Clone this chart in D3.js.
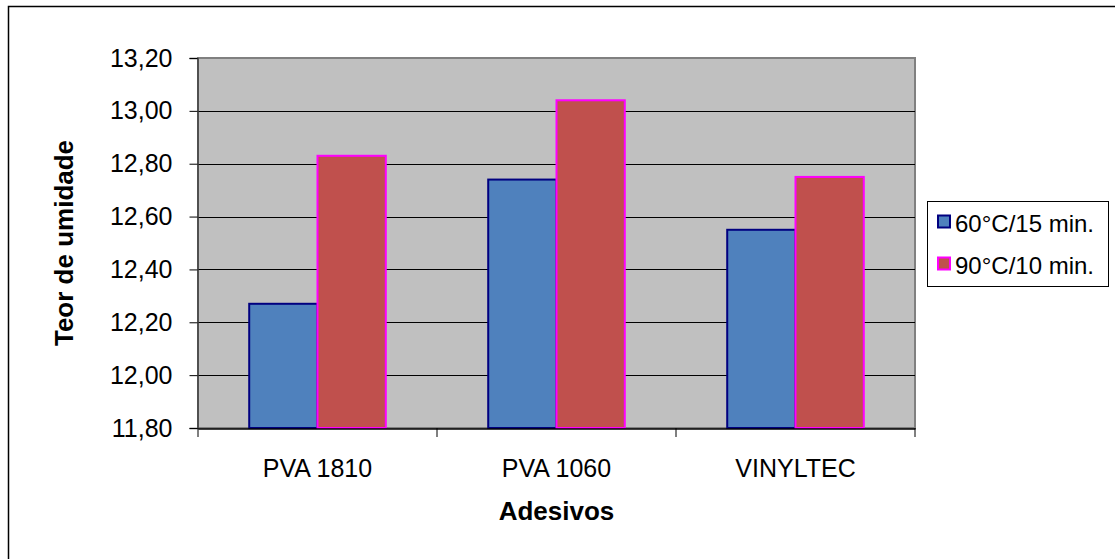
<!DOCTYPE html>
<html>
<head>
<meta charset="utf-8">
<script src="https://cdn.jsdelivr.net/npm/d3@7"></script>
<style>
  html, body { margin: 0; padding: 0; background: #fff; }
  svg { display: block; }
  text { font-family: "Liberation Sans", Arial, sans-serif; fill: #000; }
</style>
</head>
<body>
<svg id="chart" width="1115" height="559"></svg>
<script>
// Moisture content by adhesive and curing condition
const categories = ["PVA 1810", "PVA 1060", "VINYLTEC"];
const seriesNames = ["60°C/15 min.", "90°C/10 min."];
const series60 = [12.27, 12.74, 12.55];
const series90 = [12.83, 13.04, 12.75];
const yTicks = [11.8, 12.0, 12.2, 12.4, 12.6, 12.8, 13.0, 13.2];

const fills = ["#4f81bd", "#c0504d"];
const strokes = ["#000080", "#ff00ff"];
const FONT = "'Liberation Sans', Arial, sans-serif";

const svg = d3.select("#chart");

// outer chart frame
svg.append("rect")
  .attr("x", 8.5).attr("y", 6.5)
  .attr("width", 1200).attr("height", 700)
  .attr("fill", "#fff").attr("stroke", "#000").attr("stroke-width", 1.5);

const plot = { left: 198, top: 58, right: 915, bottom: 428 };

const x0 = d3.scaleBand()
  .domain(categories)
  .range([plot.left, plot.right])
  .paddingInner(0).paddingOuter(0);

const y = d3.scaleLinear()
  .domain([11.8, 13.2])
  .range([plot.bottom, plot.top]);

// plot background
svg.append("rect")
  .attr("x", plot.left).attr("y", plot.top)
  .attr("width", plot.right - plot.left).attr("height", plot.bottom - plot.top)
  .attr("fill", "#c0c0c0")
  .attr("stroke", "#808080").attr("stroke-width", 2);

// gridlines
svg.append("g")
  .selectAll("line")
  .data(yTicks.filter(t => t > 11.8 && t < 13.2))
  .join("line")
  .attr("x1", plot.left).attr("x2", plot.right)
  .attr("y1", d => Math.round(y(d)) + 0.5).attr("y2", d => Math.round(y(d)) + 0.5)
  .attr("stroke", "#000").attr("stroke-width", 1);

// bars
const barW = x0.bandwidth() / 3.5;
const groupOffset = (x0.bandwidth() - 2 * barW) / 2;
const data = [series60, series90];

data.forEach((vals, si) => {
  svg.append("g")
    .selectAll("rect")
    .data(vals)
    .join("rect")
    .attr("x", (d, i) => x0(categories[i]) + groupOffset + si * barW)
    .attr("y", d => y(d))
    .attr("width", barW)
    .attr("height", d => y(11.8) - y(d))
    .attr("fill", fills[si])
    .attr("stroke", strokes[si])
    .attr("stroke-width", 2);
});

// y axis
const yAxis = d3.axisLeft(y)
  .tickValues(yTicks)
  .tickSize(8)
  .tickPadding(17)
  .tickFormat(d => d3.format(".2f")(d).replace(".", ","));

const gy = svg.append("g")
  .attr("transform", `translate(${plot.left - 0.5},0)`)
  .call(yAxis);
gy.attr("font-size", null).attr("font-family", null);
gy.select(".domain").attr("stroke", "#404040").attr("stroke-width", 1.5);
gy.selectAll(".tick line").attr("stroke", "#000");
gy.selectAll(".tick text")
  .style("font-size", "25px")
  .style("font-family", FONT);

// x axis
const xAxis = d3.axisBottom(x0).tickSize(0).tickPadding(0);
const gx = svg.append("g")
  .attr("transform", `translate(0,${plot.bottom + 0.5})`)
  .call(xAxis);
gx.attr("font-size", null).attr("font-family", null);
gx.select(".domain").attr("stroke", "#000").attr("stroke-width", 1.5);
gx.selectAll(".tick text")
  .attr("dy", 0)
  .attr("y", 48)
  .style("font-size", "25px")
  .style("font-family", FONT);

// category separator ticks
const sepX = categories.map(c => x0(c)).concat([plot.right]);
svg.append("g")
  .selectAll("line")
  .data(sepX)
  .join("line")
  .attr("x1", d => d).attr("x2", d => d)
  .attr("y1", plot.bottom).attr("y2", plot.bottom + 9)
  .attr("stroke", "#000").attr("stroke-width", 1);

// axis titles
svg.append("text")
  .attr("x", (plot.left + plot.right) / 2)
  .attr("y", 520)
  .attr("text-anchor", "middle")
  .style("font-size", "26px")
  .attr("font-weight", "bold")
  .text("Adesivos");

svg.append("text")
  .attr("transform", `translate(73,${(plot.top + plot.bottom) / 2}) rotate(-90)`)
  .attr("text-anchor", "middle")
  .style("font-size", "26px")
  .attr("font-weight", "bold")
  .text("Teor de umidade");

// legend
const lg = svg.append("g");
lg.append("rect")
  .attr("x", 927.5).attr("y", 201.5)
  .attr("width", 181).attr("height", 85)
  .attr("fill", "#fff").attr("stroke", "#000").attr("stroke-width", 1);

seriesNames.forEach((name, i) => {
  const cy = 222 + i * 42;
  lg.append("rect")
    .attr("x", 938).attr("y", cy - 6.5)
    .attr("width", 12).attr("height", 12)
    .attr("fill", fills[i]).attr("stroke", strokes[i]).attr("stroke-width", 2);
  lg.append("text")
    .attr("x", 955).attr("y", cy + 10)
    .style("font-size", "24px")
    .text(name);
});
</script>
</body>
</html>
